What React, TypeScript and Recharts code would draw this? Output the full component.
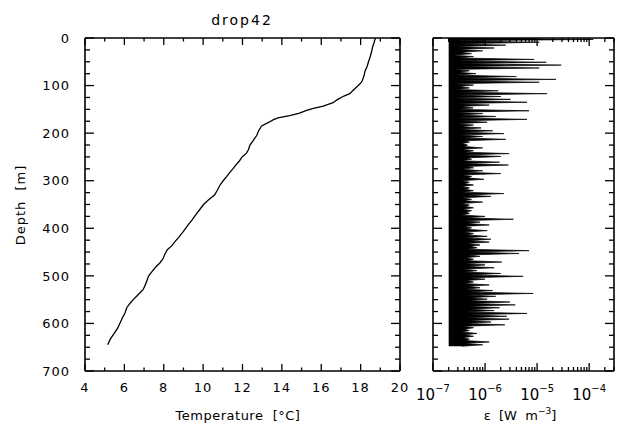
import React from 'react';
import { LineChart, ComposedChart, Line, Area, XAxis, YAxis } from 'recharts';

const FONT = '"DejaVu Sans", sans-serif';

// depth axis (m), ticks every 25 m, labels every 100 m
const depthTicks = [0, 25, 50, 75, 100, 125, 150, 175, 200, 225, 250, 275, 300, 325, 350, 375, 400, 425, 450, 475, 500, 525, 550, 575, 600, 625, 650, 675, 700];
const tempTicks = [4, 5, 6, 7, 8, 9, 10, 11, 12, 13, 14, 15, 16, 17, 18, 19, 20];
const epsTicks = [
  1e-7, 2e-7, 3e-7, 4e-7, 5e-7, 6e-7, 7e-7, 8e-7, 9e-7,
  1e-6, 2e-6, 3e-6, 4e-6, 5e-6, 6e-6, 7e-6, 8e-6, 9e-6,
  1e-5, 2e-5, 3e-5, 4e-5, 5e-5, 6e-5, 7e-5, 8e-5, 9e-5,
  1e-4, 2e-4, 3e-4,
];
const epsDecades = [1e-7, 1e-6, 1e-5, 1e-4];
const epsNoiseFloor = 2e-7;

// temperature profile
const tempDepth = [0, 10, 20, 30, 40, 50, 60, 70, 80, 90, 95, 100, 110, 117, 122, 130, 136, 143, 148, 152, 158, 163, 168, 172, 177, 185, 195, 205, 215, 225, 235, 242, 250, 258, 266, 274, 283, 291, 300, 309, 320, 330, 340, 350, 360, 370, 382, 395, 407, 418, 428, 437, 445, 455, 465, 473, 482, 491, 501, 510, 520, 529, 536, 543, 550, 557, 567, 578, 588, 599, 610, 620, 632, 645];
const temperature = [18.75, 18.68, 18.6, 18.55, 18.48, 18.4, 18.33, 18.22, 18.17, 18.08, 18.0, 17.88, 17.62, 17.45, 17.15, 16.8, 16.6, 16.1, 15.6, 15.25, 14.9, 14.4, 13.8, 13.55, 13.35, 12.97, 12.82, 12.72, 12.55, 12.38, 12.3, 12.2, 11.98, 11.85, 11.68, 11.53, 11.35, 11.2, 11.02, 10.86, 10.72, 10.58, 10.28, 10.02, 9.84, 9.65, 9.45, 9.2, 8.99, 8.78, 8.57, 8.4, 8.18, 8.05, 7.95, 7.8, 7.58, 7.4, 7.22, 7.15, 7.05, 6.95, 6.78, 6.62, 6.45, 6.3, 6.12, 6.03, 5.9, 5.78, 5.66, 5.5, 5.3, 5.15];

// dissipation profile [depth m, epsilon W m^-3]
const epsProfile: [number, number][] = [
  [0, 3e-7], [3, 1.2e-4], [6, 2.8e-7], [9, 1.1e-5], [12, 3.2e-7], [15, 2.5e-6], [18, 2.6e-7], [21, 1.5e-6], [24, 3e-7], [27, 9e-7],
  [30, 3.4e-7], [33, 5.5e-7], [36, 2.5e-7], [39, 6e-7], [42, 3.2e-7], [45, 8.8e-6], [48, 2.8e-7], [51, 1.5e-5], [54, 3.4e-7], [57, 2.9e-5],
  [60, 3e-7], [63, 1.1e-5], [66, 2.6e-7], [69, 5e-7], [72, 3.2e-7], [75, 6.7e-7], [78, 2.8e-7], [81, 4e-6], [84, 3.4e-7], [87, 2.3e-5],
  [90, 3e-7], [93, 1.1e-5], [96, 2.5e-7], [99, 6e-7], [102, 3.2e-7], [105, 5e-7], [108, 2.8e-7], [111, 1.8e-6], [114, 3.5e-7], [117, 1.55e-5],
  [120, 3e-7], [123, 2e-6], [126, 2.6e-7], [129, 3.1e-6], [132, 3.3e-7], [135, 6.4e-6], [138, 2.8e-7], [141, 1.2e-6], [144, 3.4e-7], [147, 5.9e-7],
  [150, 3e-7], [153, 7e-6], [156, 2.7e-7], [159, 9e-7], [162, 3.4e-7], [165, 1.6e-6], [168, 3e-7], [171, 6.4e-6], [174, 3.6e-7], [177, 1.1e-6],
  [180, 3e-7], [183, 6e-7], [186, 3.5e-7], [189, 8.4e-7], [192, 3.2e-7], [195, 1.4e-6], [198, 3.8e-7], [201, 2.3e-6], [204, 3.4e-7], [207, 9e-7],
  [210, 3.8e-7], [213, 2.5e-6], [216, 4.2e-7], [219, 5e-7], [222, 3.6e-7], [225, 4.6e-7], [228, 4e-7], [231, 9e-7], [234, 3.5e-7], [237, 6e-7],
  [240, 4.2e-7], [243, 2.9e-6], [246, 3.8e-7], [249, 2e-6], [252, 4.6e-7], [255, 5.5e-7], [258, 3.6e-7], [261, 1.9e-6], [264, 4e-7], [267, 2.8e-6],
  [270, 4.4e-7], [273, 6e-7], [276, 3.6e-7], [279, 9e-7], [282, 4.2e-7], [285, 2e-6], [288, 3.8e-7], [291, 5.5e-7], [294, 4.6e-7], [297, 9.5e-7],
  [300, 3.6e-7], [303, 5e-7], [306, 4e-7], [309, 6e-7], [312, 3.5e-7], [315, 5e-7], [318, 4.2e-7], [321, 6e-7], [324, 3.8e-7], [327, 2.3e-6],
  [330, 4.6e-7], [333, 1.3e-6], [336, 3.6e-7], [339, 5.5e-7], [342, 4e-7], [345, 9e-7], [348, 3.5e-7], [351, 5e-7], [354, 4.2e-7], [357, 6e-7],
  [360, 3.8e-7], [363, 5.5e-7], [366, 4.4e-7], [369, 5e-7], [372, 3.6e-7], [375, 1e-6], [378, 4.2e-7], [381, 3.5e-6], [384, 4e-7], [387, 8e-7],
  [390, 4.6e-7], [393, 1.2e-6], [396, 3.8e-7], [399, 5.5e-7], [402, 4.4e-7], [405, 1.1e-6], [408, 4e-7], [411, 6e-7], [414, 4.6e-7], [417, 1.1e-6],
  [420, 4.2e-7], [423, 1.3e-6], [426, 5e-7], [429, 1.2e-6], [432, 4.4e-7], [435, 8e-7], [438, 5.2e-7], [441, 7e-7], [444, 4.6e-7], [447, 7e-6],
  [450, 5.4e-7], [453, 4.5e-6], [456, 4.8e-7], [459, 8e-7], [462, 4.2e-7], [465, 6e-7], [468, 4.6e-7], [471, 2.1e-6], [474, 4e-7], [477, 1e-6],
  [480, 4.4e-7], [483, 1.5e-6], [486, 3.8e-7], [489, 7e-7], [492, 4.2e-7], [495, 2e-6], [498, 4.6e-7], [501, 5.4e-6], [504, 5e-7], [507, 1e-6],
  [510, 4.4e-7], [513, 6e-7], [516, 4e-7], [519, 1.2e-6], [522, 4.6e-7], [525, 8e-7], [528, 4.2e-7], [531, 1.4e-6], [534, 5e-7], [537, 8.4e-6],
  [540, 4.6e-7], [543, 1.6e-6], [546, 5.2e-7], [549, 1.1e-6], [552, 4.8e-7], [555, 3e-6], [558, 5.4e-7], [561, 3.8e-6], [564, 4.6e-7], [567, 1.9e-6],
  [570, 5e-7], [573, 1.5e-6], [576, 4.4e-7], [579, 6.4e-6], [582, 5.2e-7], [585, 2.6e-6], [588, 4.6e-7], [591, 2.9e-6], [594, 5e-7], [597, 1.3e-6],
  [600, 4.2e-7], [603, 2.4e-6], [606, 3.8e-7], [609, 6e-7], [612, 4e-7], [615, 5e-7], [618, 3.6e-7], [621, 7e-7], [624, 4e-7], [627, 6e-7],
  [630, 3.8e-7], [633, 5e-7], [636, 4.2e-7], [639, 1.2e-6], [642, 4e-7], [645, 9e-7], [648, 3.6e-7],
];

const tempData = tempDepth.map((d, i) => ({ depth: d, temp: temperature[i] }));
const epsData = epsProfile.map(([d, e]) => ({ depth: d, eps: e }));

type Side = 'top' | 'bottom' | 'left' | 'right';

// inward tick marks drawn at the axis line, labels only on major ticks
const makeTick = (
  side: Side,
  isMajor: (v: number) => boolean,
  majorLen: number,
  minorLen: number,
  label?: (v: number, x: number, y: number) => React.ReactNode
) => (props: any) => {
  const { x, y, payload } = props;
  const v = payload.value;
  const len = isMajor(v) ? majorLen : minorLen;
  const dx = side === 'left' ? len : side === 'right' ? -len : 0;
  const dy = side === 'top' ? len : side === 'bottom' ? -len : 0;
  return (
    <g>
      <line x1={x} y1={y} x2={x + dx} y2={y + dy} stroke="#000" strokeWidth={1.3} />
      {label && isMajor(v) ? label(v, x, y) : null}
    </g>
  );
};

const depthMajor = (v: number) => v % 100 === 0;
const tempMajor = (v: number) => v % 2 === 0;
const epsMajor = (v: number) => epsDecades.some((d) => Math.abs(v / d - 1) < 1e-6);

const depthLabel = (v: number, x: number, y: number) => (
  <text x={x - 15} y={y} dy="0.36em" textAnchor="end" fontFamily={FONT} fontSize={13} letterSpacing={1} fill="#000">
    {v}
  </text>
);
const tempLabel = (v: number, x: number, y: number) => (
  <text x={x} y={y + 21} textAnchor="middle" fontFamily={FONT} fontSize={13} letterSpacing={1} fill="#000">
    {v}
  </text>
);
const epsLabel = (v: number, x: number, y: number) => (
  <text x={x} y={y + 29} textAnchor="middle" fontFamily={FONT} fontSize={15} fill="#000">
    10
    <tspan fontSize={10} dy={-8}>{'\u2212' + Math.round(-Math.log10(v))}</tspan>
  </text>
);

const axisLine = { stroke: '#000', strokeWidth: 1.6 };

const TemperaturePanel = () => (
  <LineChart
    width={617}
    height={428}
    layout="vertical"
    data={tempData}
    margin={{ top: 37, right: 216, bottom: 56, left: 84 }}
  >
    <XAxis xAxisId="b" type="number" orientation="bottom" domain={[4, 20]} ticks={tempTicks} interval={0}
      allowDataOverflow height={1} tickSize={0} tickMargin={0} axisLine={axisLine}
      tick={makeTick('bottom', tempMajor, 7, 3.5, tempLabel)} />
    <XAxis xAxisId="t" type="number" orientation="top" domain={[4, 20]} ticks={tempTicks} interval={0}
      allowDataOverflow height={1} tickSize={0} tickMargin={0} axisLine={axisLine}
      tick={makeTick('top', tempMajor, 7, 3.5)} />
    <YAxis yAxisId="l" type="number" dataKey="depth" orientation="left" domain={[0, 700]} ticks={depthTicks} interval={0}
      allowDataOverflow width={1} tickSize={0} tickMargin={0} axisLine={axisLine}
      tick={makeTick('left', depthMajor, 9, 5, depthLabel)} />
    <YAxis yAxisId="r" type="number" dataKey="depth" orientation="right" domain={[0, 700]} ticks={depthTicks} interval={0}
      allowDataOverflow width={1} tickSize={0} tickMargin={0} axisLine={axisLine}
      tick={makeTick('right', depthMajor, 9, 5)} />
    <Line xAxisId="b" yAxisId="l" dataKey="temp" stroke="#000" strokeWidth={1.3} dot={false} isAnimationActive={false} />
    <text x={242} y={25} textAnchor="middle" fontFamily={FONT} fontSize={14} letterSpacing={2} fill="#000">drop42</text>
    <text x={238} y={420} textAnchor="middle" fontFamily={FONT} fontSize={13} letterSpacing={0.5} fill="#000" style={{ whiteSpace: 'pre' }}>
      {'Temperature  [°C]'}
    </text>
    <text x={20} y={205} textAnchor="middle" dominantBaseline="central" transform="rotate(-90 20 205)"
      fontFamily={FONT} fontSize={13} letterSpacing={1} fill="#000" style={{ whiteSpace: 'pre' }}>
      {'Depth  [m]'}
    </text>
  </LineChart>
);

const DissipationPanel = () => (
  <ComposedChart
    width={617}
    height={428}
    layout="vertical"
    data={epsData}
    margin={{ top: 37, right: 2, bottom: 56, left: 432 }}
  >
    <XAxis xAxisId="b" type="number" scale="log" orientation="bottom" domain={[1e-7, 3e-4]} ticks={epsTicks} interval={0}
      allowDataOverflow height={1} tickSize={0} tickMargin={0} axisLine={axisLine}
      tick={makeTick('bottom', epsMajor, 8, 4, epsLabel)} />
    <XAxis xAxisId="t" type="number" scale="log" orientation="top" domain={[1e-7, 3e-4]} ticks={epsTicks} interval={0}
      allowDataOverflow height={1} tickSize={0} tickMargin={0} axisLine={axisLine}
      tick={makeTick('top', epsMajor, 8, 4)} />
    <YAxis yAxisId="l" type="number" dataKey="depth" orientation="left" domain={[0, 700]} ticks={depthTicks} interval={0}
      allowDataOverflow width={1} tickSize={0} tickMargin={0} axisLine={axisLine}
      tick={makeTick('left', depthMajor, 9, 5)} />
    <YAxis yAxisId="r" type="number" dataKey="depth" orientation="right" domain={[0, 700]} ticks={depthTicks} interval={0}
      allowDataOverflow width={1} tickSize={0} tickMargin={0} axisLine={axisLine}
      tick={makeTick('right', depthMajor, 9, 5)} />
    <Area xAxisId="b" yAxisId="l" type="linear" dataKey="eps" baseValue={epsNoiseFloor} stroke="#000" strokeWidth={0.7}
      fill="#000" fillOpacity={1} dot={false} activeDot={false} isAnimationActive={false} />
    <text x={520} y={420} textAnchor="middle" fontFamily={FONT} fontSize={13} fill="#000" style={{ whiteSpace: 'pre' }}>
      {'\u03b5  [W  m'}
      <tspan fontSize={9} dy={-6}>{'\u22123'}</tspan>
      <tspan dy={6}>]</tspan>
    </text>
  </ComposedChart>
);

export default function App() {
  return (
    <div style={{ position: 'absolute', left: 0, top: 0, width: 617, height: 428, background: '#fff' }}>
      <div style={{ position: 'absolute', left: 0, top: 0 }}>
        <DissipationPanel />
      </div>
      <div style={{ position: 'absolute', left: 0, top: 0 }}>
        <TemperaturePanel />
      </div>
    </div>
  );
}
